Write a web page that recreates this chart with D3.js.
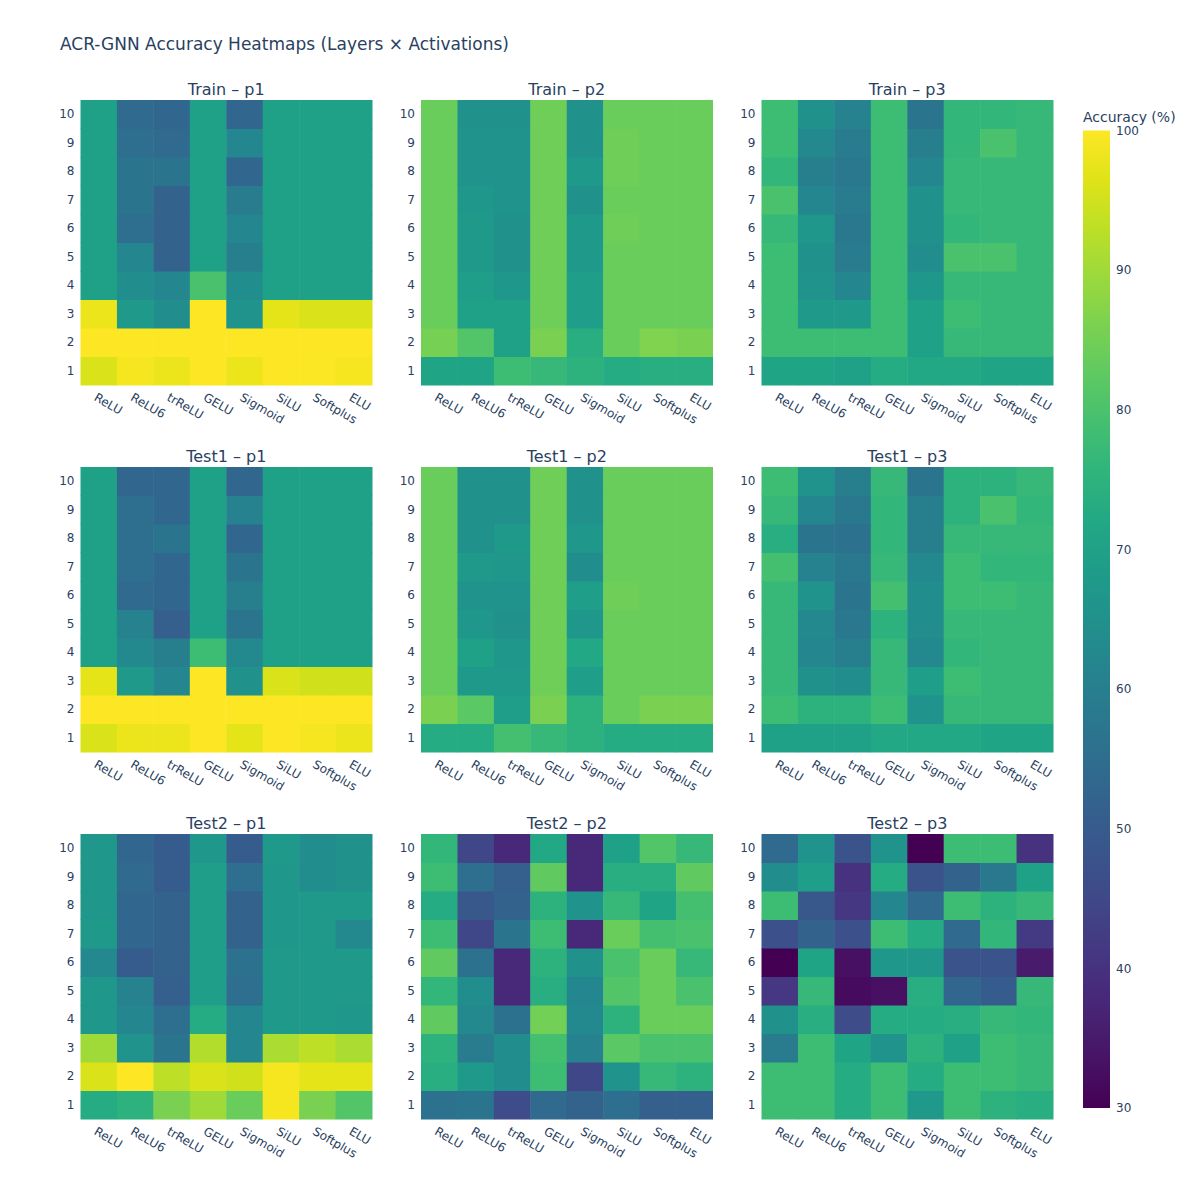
<!DOCTYPE html>
<html>
<head>
<meta charset="utf-8">
<script src="https://cdn.jsdelivr.net/npm/d3@7"></script>
<style>
  body { margin: 0; background: #fff; }
  svg text { font-family: "DejaVu Sans", Verdana, sans-serif; fill: #2a3f5f; }
</style>
</head>
<body>
<div id="chart"></div>
<script>
// activations along x, layers along y (row 0 = layer 1)
var activations = ["ReLU", "ReLU6", "trReLU", "GELU", "Sigmoid", "SiLU", "Softplus", "ELU"];
var layers = [1, 2, 3, 4, 5, 6, 7, 8, 9, 10];
var splits = ["Train", "Test1", "Test2"];
var params = ["p1", "p2", "p3"];
var colorTicks = [30, 40, 50, 60, 70, 80, 90, 100];

var trainP1 = [
  [96, 99, 98, 100, 98, 100, 99.5, 99],
  [100, 100, 100, 100, 100, 100, 100, 100],
  [98, 68, 64, 100, 66, 97, 96, 96],
  [70, 64, 62, 80, 64, 70, 70, 70],
  [70, 62, 52, 70, 60, 70, 70, 70],
  [70, 55, 52, 70, 62, 70, 70, 70],
  [70, 57, 52, 70, 59, 70, 70, 70],
  [70, 57, 57, 70, 53, 70, 70, 70],
  [70, 55, 54, 70, 62, 70, 70, 70],
  [70, 54, 53, 70, 53, 70, 70, 70]
];
var trainP2 = [
  [71, 71, 78, 77, 75, 73, 74, 74],
  [85.5, 81, 70, 86, 74, 84, 86.5, 86],
  [84, 70, 70, 84.5, 69, 84, 84, 84],
  [84, 69, 67, 84.5, 69, 84, 84, 84],
  [84, 68, 65, 84.5, 68, 84, 84, 84],
  [84, 68, 65, 84.5, 68, 84.5, 84, 84],
  [84, 67, 66, 84.5, 65, 84, 84, 84],
  [84, 66, 66, 84.5, 68, 84.5, 84, 84],
  [84, 66, 66, 84.5, 65, 84.5, 84, 84],
  [84, 65, 65, 84.5, 65, 84, 84, 84]
];
var trainP3 = [
  [71, 71, 70, 73, 72, 72, 71, 71],
  [78, 78, 78, 78, 70, 77, 77, 77],
  [78, 68, 68, 78, 70, 78, 77, 77],
  [78, 66, 62, 78, 67, 77, 77, 77],
  [78, 65, 59, 78, 64, 80, 80, 77],
  [77, 67, 58, 78, 65, 76, 77, 77],
  [80, 62, 59, 78, 65, 77, 77, 77],
  [76, 60, 58, 78, 62, 77, 77, 77],
  [78, 63, 59, 78, 60, 76, 80, 77],
  [78, 65, 61, 78, 57, 76, 76, 77]
];
var test1P1 = [
  [96, 98, 98, 100, 97, 100, 99, 98],
  [100, 100, 100, 100, 100, 100, 100, 100],
  [97, 68, 62, 100, 65, 96, 95, 95],
  [70, 63, 60, 78, 63, 70, 70, 70],
  [70, 61, 51, 70, 57, 70, 70, 70],
  [70, 54, 53, 70, 60, 70, 70, 70],
  [70, 55, 53, 70, 57, 70, 70, 70],
  [70, 55, 57, 70, 53, 70, 70, 70],
  [70, 55, 53, 70, 61, 70, 70, 70],
  [70, 53, 53, 70, 53, 70, 70, 70]
];
var test1P2 = [
  [73, 73, 79, 77, 75, 73, 73, 73],
  [86, 82, 69, 86, 75, 84, 86, 86],
  [84, 68, 68, 84.5, 69, 84, 84, 84],
  [84, 70, 67, 84.5, 72, 84, 84, 84],
  [84, 67, 65, 84.5, 67, 84, 84, 84],
  [84, 66, 66, 84.5, 69, 84.5, 84, 84],
  [84, 68, 67, 84.5, 64, 84, 84, 84],
  [84, 65, 68, 84.5, 67, 84, 84, 84],
  [84, 65, 65, 84.5, 65, 84, 84, 84],
  [84, 65, 65, 84.5, 65, 84, 84, 84]
];
var test1P3 = [
  [70, 70, 70, 72, 72, 72, 71, 71],
  [78, 75, 75, 78, 66, 77, 77, 77],
  [77, 65, 64, 77, 69, 78, 77, 77],
  [77, 62, 60, 77, 63, 76, 77, 77],
  [77, 63, 58, 75, 64, 77, 77, 77],
  [77, 66, 57, 79, 64, 78, 78, 77],
  [79, 61, 58, 77, 63, 78, 76, 76],
  [74, 57, 56, 76, 60, 77, 77, 77],
  [77, 62, 58, 76, 60, 75, 80, 76],
  [78, 66, 60, 77, 57, 75, 75, 77]
];
var test2P1 = [
  [73, 75, 86, 90, 84, 99, 86, 81],
  [96, 100, 93, 96, 95, 99, 97, 97],
  [90, 66, 57, 92, 62, 91, 93, 91],
  [67, 62, 55, 73, 62, 68, 68, 67],
  [67, 61, 51, 69, 55, 68, 68, 68],
  [63, 50, 52, 69, 56, 68, 68, 68],
  [68, 53, 52, 69, 52, 67, 68, 63],
  [67, 53, 52, 69, 52, 67, 68, 68],
  [67, 54, 50, 69, 55, 67, 64, 65],
  [67, 53, 50, 67, 50, 68, 64, 65]
];
var test2P2 = [
  [56, 57, 46, 54, 52, 55, 51, 51],
  [74, 68, 64, 78, 45, 66, 77, 75],
  [75, 59, 64, 79, 61, 82, 80, 80],
  [83, 63, 56, 85, 63, 75, 84, 84],
  [76, 64, 38, 74, 62, 81, 84, 80],
  [83, 56, 38, 75, 65, 80, 84, 77],
  [78, 45, 57, 78, 38, 84, 79, 80],
  [73, 49, 52, 75, 66, 77, 71, 79],
  [78, 55, 51, 83, 38, 74, 74, 83],
  [76, 45, 38, 72, 38, 70, 81, 77]
];
var test2P3 = [
  [78, 78, 73, 78, 68, 78, 75, 74],
  [78, 78, 73, 78, 73, 78, 78, 77],
  [59, 78, 71, 66, 75, 70, 78, 77],
  [65, 74, 46, 73, 73, 74, 77, 76],
  [41, 77, 32, 33, 74, 53, 50, 77],
  [30, 71, 33, 67, 67, 48, 48, 35],
  [47, 52, 47, 78, 73, 54, 76, 42],
  [78, 49, 41, 62, 54, 78, 75, 77],
  [64, 69, 40, 73, 48, 52, 58, 70],
  [54, 66, 48, 66, 30, 78, 78, 40]
];

var grids = [
  [trainP1, trainP2, trainP3],
  [test1P1, test1P2, test1P3],
  [test2P1, test2P2, test2P3]
];

var width = 1200,
    height = 1200,
    plotLeft = 80.5,
    plotTop = 100,
    panelW = 291.5,
    panelH = 285,
    gapX = 49,
    gapY = 82;

var color = d3.scaleSequential(d3.interpolateViridis).domain([30, 100]);

var svg = d3.select("#chart").append("svg")
    .attr("width", width)
    .attr("height", height);

svg.append("text")
    .attr("x", 60)
    .attr("y", 50)
    .style("font-size", "17px")
    .text("ACR-GNN Accuracy Heatmaps (Layers \u00d7 Activations)");

var x = d3.scaleBand().domain(activations).range([0, panelW]);
var y = d3.scaleBand().domain(layers).range([panelH, 0]);

splits.forEach(function(split, r) {
  params.forEach(function(p, c) {
    var g = svg.append("g")
        .attr("transform", "translate(" + (plotLeft + c * (panelW + gapX)) + "," + (plotTop + r * (panelH + gapY)) + ")");

    var cells = [];
    grids[r][c].forEach(function(row, li) {
      row.forEach(function(v, ai) {
        cells.push({ layer: layers[li], act: activations[ai], value: v });
      });
    });

    g.selectAll(".cell")
      .data(cells)
      .enter().append("rect")
        .attr("class", "cell")
        .attr("x", function(d) { return x(d.act); })
        .attr("y", function(d) { return y(d.layer); })
        .attr("width", x.bandwidth() + 0.5)
        .attr("height", y.bandwidth() + 0.5)
        .style("fill", function(d) { return color(d.value); });

    g.append("text")
        .attr("x", panelW / 2)
        .attr("y", -5)
        .style("text-anchor", "middle")
        .style("font-size", "16px")
        .text(split + " \u2013 " + p);

    g.selectAll(".ylab")
      .data(layers)
      .enter().append("text")
        .attr("class", "ylab")
        .attr("x", -6)
        .attr("y", function(d) { return y(d) + y.bandwidth() / 2; })
        .attr("dy", "0.35em")
        .style("text-anchor", "end")
        .style("font-size", "12px")
        .text(function(d) { return d; });

    g.selectAll(".xlab")
      .data(activations)
      .enter().append("text")
        .attr("class", "xlab")
        .attr("transform", function(d) {
          return "translate(" + (x(d) + x.bandwidth() / 2 - 1) + "," + (panelH + 7) + ") rotate(30)";
        })
        .attr("dy", "0.75em")
        .style("text-anchor", "start")
        .style("font-size", "12px")
        .text(function(d) { return d; });
  });
});

/* colour bar */
var cbX = 1083, cbW = 27, cbTop = 130.5, cbBottom = 1108;
var cbScale = d3.scaleLinear().domain([30, 100]).range([cbBottom, cbTop]);

var grad = svg.append("defs").append("linearGradient")
    .attr("id", "cbgrad")
    .attr("x1", 0).attr("y1", 1).attr("x2", 0).attr("y2", 0);
d3.range(0, 1.0001, 0.05).forEach(function(t) {
  grad.append("stop")
    .attr("offset", t)
    .attr("stop-color", d3.interpolateViridis(t));
});

svg.append("rect")
    .attr("x", cbX)
    .attr("y", cbTop)
    .attr("width", cbW)
    .attr("height", cbBottom - cbTop)
    .style("fill", "url(#cbgrad)");

svg.selectAll(".cbtick")
  .data(colorTicks)
  .enter().append("text")
    .attr("class", "cbtick")
    .attr("x", cbX + cbW + 6)
    .attr("y", function(d) { return cbScale(d); })
    .attr("dy", "0.35em")
    .style("font-size", "12px")
    .text(function(d) { return d; });

svg.append("text")
    .attr("x", cbX)
    .attr("y", 122)
    .style("font-size", "14px")
    .text("Accuracy (%)");
</script>
</body>
</html>
